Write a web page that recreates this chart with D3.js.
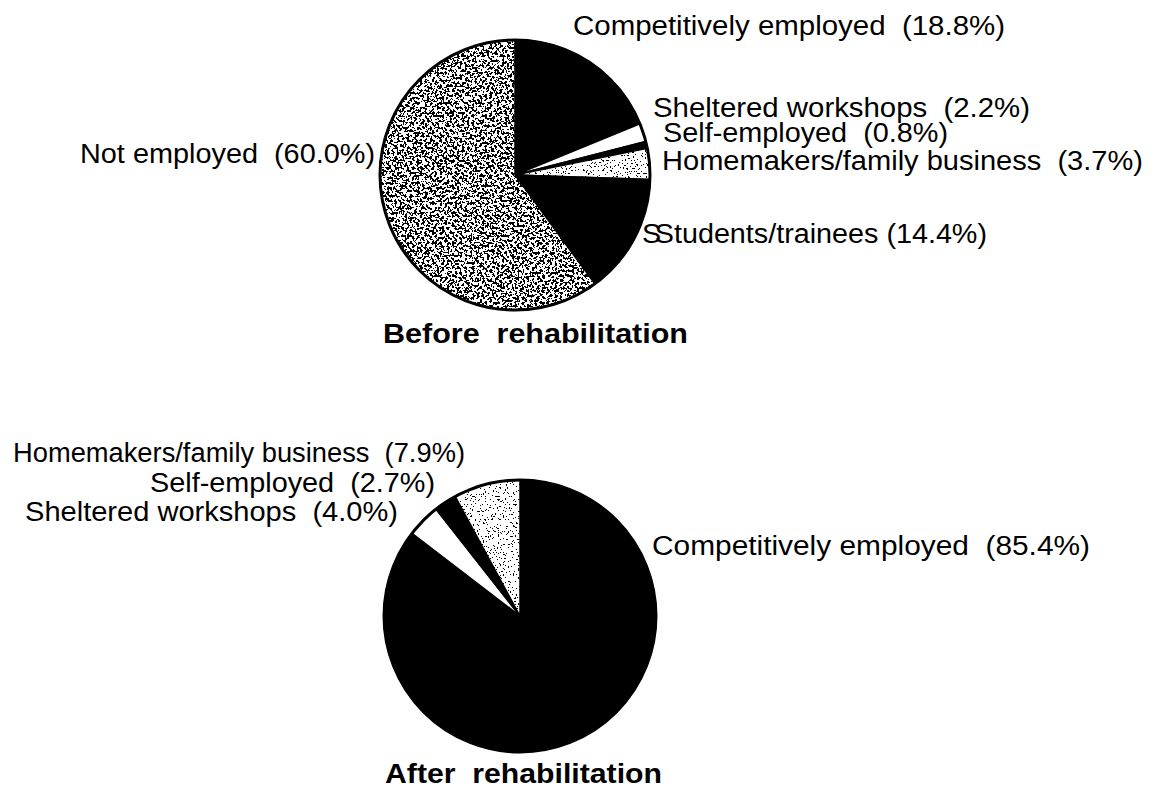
<!DOCTYPE html>
<html>
<head>
<meta charset="utf-8">
<script src="https://cdn.jsdelivr.net/npm/d3@7"></script>
<style>
  body { margin: 0; background: #fff; }
  text { font-family: "Liberation Sans", Arial, sans-serif; white-space: pre; fill: #000; }
</style>
</head>
<body>
<script>
var categories = ['Competitively employed', 'Sheltered workshops', 'Self-employed',
  'Homemakers/family business', 'Students/trainees', 'Not employed'];
var beforeValues = [18.8, 2.2, 0.8, 3.7, 14.4, 60.0];
var afterValues = [85.4, 4.0, 2.7, 7.9, 0, 0];
var titles = ['Before rehabilitation', 'After rehabilitation'];

// how each category is shaded (same in both pies)
var shades = ['black', 'white', 'black', 'light', 'black', 'dense'];

// label placement: category index, left x, baseline y, width
var beforeLabels = [
  {i: 0, x: 573, y: 35, w: 432},
  {i: 1, x: 653, y: 117, w: 377},
  {i: 2, x: 663, y: 142, w: 285},
  {i: 3, x: 662, y: 170, w: 481},
  {i: 4, x: 642, y: 243, w: 345, sep: ' ', stray: 'S'},
  {i: 5, x: 80, y: 163, w: 295}
];
var afterLabels = [
  {i: 0, x: 652, y: 555, w: 438},
  {i: 1, x: 25, y: 521, w: 373},
  {i: 2, x: 150, y: 492, w: 285},
  {i: 3, x: 13, y: 462, w: 452}
];

var svg = d3.select('body').append('svg')
  .attr('width', 1156)
  .attr('height', 788);

var defs = svg.append('defs');

// speckled screen made from noise; threshold sets how dark it is
function speckle(id, threshold, freq) {
  var f = defs.append('filter')
    .attr('id', id)
    .attr('color-interpolation-filters', 'sRGB');
  f.append('feTurbulence')
    .attr('type', 'fractalNoise')
    .attr('baseFrequency', freq)
    .attr('numOctaves', 4)
    .attr('seed', 7)
    .attr('result', 'noise');
  f.append('feColorMatrix')
    .attr('in', 'noise')
    .attr('type', 'matrix')
    .attr('values', '0 0 0 0 0  0 0 0 0 0  0 0 0 0 0  -12 0 0 0 ' + (12 * threshold + 0.5))
    .attr('result', 'a');
  var ct = f.append('feComponentTransfer').attr('in', 'a').attr('result', 'dots');
  ct.append('feFuncA').attr('type', 'discrete').attr('tableValues', '0 1');
  f.append('feComposite')
    .attr('in', 'dots')
    .attr('in2', 'SourceGraphic')
    .attr('operator', 'in');
}
speckle('dense', 0.485, 0.4);
speckle('light', 0.34, 0.6);

function drawPie(values, cx, cy, r, labels, title, titleX, titleY, titleW) {
  var g = svg.append('g').attr('transform', 'translate(' + cx + ',' + cy + ')');

  var pie = d3.pie().sort(null).value(function (d) { return d.value; });
  var arc = d3.arc().innerRadius(0).outerRadius(r);

  var slices = pie(categories.map(function (c, i) {
    return {cat: c, value: values[i], shade: shades[i]};
  })).filter(function (d) { return d.data.value > 0; });

  g.selectAll('path.slice')
    .data(slices)
    .join('path')
    .attr('class', 'slice')
    .attr('d', arc)
    .attr('fill', function (d) { return d.data.shade == 'black' ? '#000' : '#fff'; })
    .attr('stroke', '#000')
    .attr('stroke-width', 1.5)
    .attr('stroke-linejoin', 'round');

  g.selectAll('path.dots')
    .data(slices.filter(function (d) { return d.data.shade == 'dense' || d.data.shade == 'light'; }))
    .join('path')
    .attr('class', 'dots')
    .attr('d', arc)
    .attr('fill', '#000')
    .attr('filter', function (d) { return 'url(#' + d.data.shade + ')'; });

  g.append('circle')
    .attr('r', r)
    .attr('fill', 'none')
    .attr('stroke', '#000')
    .attr('stroke-width', 3);

  labels.forEach(function (l) {
    var sep = l.sep || '  ';
    var label = categories[l.i] + sep + '(' + values[l.i].toFixed(1) + '%)';
    var t = svg.append('text')
      .attr('x', l.x)
      .attr('y', l.y)
      .attr('font-size', 27)
      .attr('textLength', l.w)
      .attr('lengthAdjust', 'spacingAndGlyphs');
    // the students label has a doubled, overprinted "S" in the original
    if (l.stray) {
      t.attr('dx', '0 -6').text(l.stray + label);
    } else {
      t.text(label);
    }
  });

  svg.append('text')
    .attr('x', titleX)
    .attr('y', titleY)
    .attr('font-size', 27)
    .attr('font-weight', 'bold')
    .attr('textLength', titleW)
    .attr('lengthAdjust', 'spacingAndGlyphs')
    .text(title.replace(' ', '  '));
}

drawPie(beforeValues, 515, 175, 135, beforeLabels, titles[0], 383, 343, 305);
drawPie(afterValues, 520, 616, 136, afterLabels, titles[1], 385, 783, 277);
</script>
</body>
</html>
